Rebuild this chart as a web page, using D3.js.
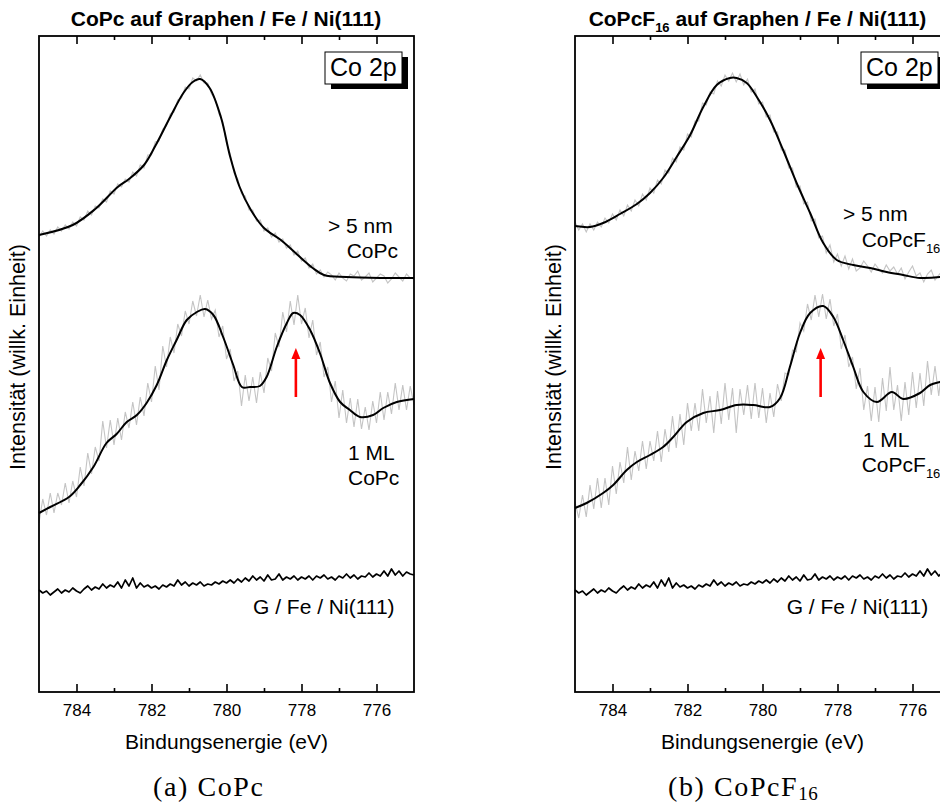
<!DOCTYPE html>
<html><head><meta charset="utf-8">
<script src="https://cdn.jsdelivr.net/npm/d3@7"></script>
<style>
body{margin:0;background:#fff;}
svg{display:block;}
text{font-family:"Liberation Sans",Arial,sans-serif;fill:#000;}
</style>
</head><body>
<svg id="c" width="940" height="803"></svg>
<script>
// ---------- data ----------
const majorTicks = [784, 782, 780, 778, 776];
const minorTicks = [783, 781, 779, 777];
// measurement grid 785.0 ... 775.0 eV in 0.1 eV steps
const energyGrid = d3.range(101).map(i => +(785 - i * 0.1).toFixed(1));

// CoPc > 5 nm
const copcThickSmooth = [[785.0,457],[784.1,467],[783.5,483],[782.9,505],[782.6,513],[782.2,527],[781.9,546],[781.5,575],[781.15,599],[780.9,610],[780.7,613],[780.45,604],[780.15,575],[779.9,535],[779.65,505],[779.35,482],[779.0,464],[778.55,452],[778.1,437],[777.7,424],[777.4,417],[776.8,415],[775.9,414],[775.0,414]];
const copcThickRaw = [455,461,456,462,458,465,461,467,463,470,466,475,472,481,477,486,484,493,490,501,498,508,505,513,510,520,516,527,524,537,537,550,551,563,566,578,580,592,594,605,603,614,611,617,609,609,598,593,578,570,549,538,519,513,498,496,482,482,471,472,461,464,455,459,450,453,444,447,437,441,431,434,424,428,418,422,415,420,417,412,419,414,411,418,416,421,412,415,419,410,414,418,416,409,413,419,415,411,418,414,413];
// CoPc 1 ML
const copcMLSmooth = [[785.0,179],[784.7,185],[784.2,195],[783.9,207],[783.55,225],[783.2,249],[782.93,258],[782.66,270],[782.39,277],[782.13,289],[781.86,307],[781.59,332],[781.33,352],[781.06,372],[780.79,380],[780.57,383],[780.35,377],[780.09,355],[779.82,327],[779.59,305],[779.37,305],[779.11,306],[778.93,315],[778.66,345],[778.39,369],[778.22,379],[778.04,377],[777.77,362],[777.51,339],[777.24,309],[776.97,290],[776.71,282],[776.44,275],[776.09,277],[775.82,284],[775.46,290],[775.0,293]];
const copcMLRaw = [169,193,177,199,179,199,187,209,189,211,195,225,206,239,218,245,231,271,244,272,247,274,252,280,264,290,267,295,276,309,290,326,302,346,325,355,339,368,356,381,368,391,376,397,375,392,373,382,355,366,333,343,311,321,286,317,291,315,289,320,299,334,321,359,345,380,360,391,367,397,368,384,354,372,337,350,315,325,290,311,274,302,269,294,265,293,263,285,262,291,269,300,272,300,278,309,282,307,282,306,287];
// CoPcF16 > 5 nm
const copcfThickSmooth = [[785.0,466],[784.6,465],[784.25,469],[783.8,478],[783.35,488],[783.0,499],[782.65,514],[782.29,535],[781.93,557],[781.58,585],[781.22,607],[780.87,614],[780.69,614],[780.42,609],[780.15,595],[779.8,572],[779.45,542],[779.09,509],[778.73,479],[778.38,449],[778.02,432],[777.58,427],[777.13,424],[776.69,420],[776.25,417],[775.8,414],[775.27,415],[775.0,417]];
const copcfThickRaw = [470,462,468,460,468,462,470,465,474,469,478,472,482,476,487,481,492,486,498,492,504,499,512,508,522,519,534,530,545,542,558,555,571,571,589,587,600,598,611,606,617,611,619,610,618,607,613,600,603,588,590,575,577,560,560,542,542,524,524,505,506,488,490,471,473,454,456,439,447,430,438,426,436,423,433,421,424,431,426,420,428,423,419,427,421,425,418,424,413,420,426,416,419,410,418,422,412,417,421,413,420];
// CoPcF16 1 ML
const copcfMLSmooth = [[785.0,184],[784.69,189],[784.25,199],[783.98,207],[783.62,222],[783.35,230],[783.0,237],[782.65,245],[782.38,255],[782.02,270],[781.58,279],[781.13,282],[780.69,287],[780.25,287],[779.8,285],[779.53,294],[779.27,325],[779.0,359],[778.73,379],[778.38,386],[778.11,375],[777.85,352],[777.58,325],[777.31,300],[776.95,290],[776.55,300],[776.25,293],[775.8,299],[775.53,307],[775.27,310],[775.0,312]];
const copcfMLRaw = [190,174,197,175,207,183,214,184,214,187,226,198,230,209,245,212,241,221,251,223,251,231,261,230,263,240,276,244,278,247,289,261,289,261,303,269,296,259,301,268,309,272,304,259,303,277,307,273,309,274,304,269,299,275,308,291,319,317,342,340,369,361,388,372,397,375,398,373,393,366,378,343,357,325,335,303,324,282,306,271,305,270,314,281,325,282,307,271,310,277,320,284,319,286,331,297,326,296,330,299,322];
// G / Fe / Ni(111) substrate (same spectrum in both panels)
const substrate = [102,99,101,97,100,103,99,102,100,104,101,99,103,106,102,105,103,108,104,107,105,110,104,112,106,114,104,109,105,107,104,106,103,107,105,108,106,112,107,110,106,109,107,110,106,108,107,110,108,111,109,112,109,113,110,114,111,116,112,115,111,117,112,113,118,112,115,113,116,112,115,113,116,112,116,114,117,113,115,112,116,114,118,114,117,113,116,115,119,115,118,116,121,116,123,117,121,116,120,118,117];

const arrowEnergy = [778.15, 778.45];
const arrowFrom = 295, arrowTo = 344;

// ---------- layout ----------
const svg = d3.select("#c");
const W = 375, H = 656, TOP = 36;
const x = d3.scaleLinear().domain([785, 775]).range([0, W]);
const y = d3.scaleLinear().domain([0, 656]).range([H, 0]);

const panels = [
  {x0: 39, titleX: 226,
   thickSmooth: copcThickSmooth, thickRaw: copcThickRaw, mlSmooth: copcMLSmooth, mlRaw: copcMLRaw,
   arrow: arrowEnergy[0], mol: "CoPc", sub: null,
   lbl: {t1:[289,197], t2:[307.7,222], m1:[309,424], m2:[309,449], g:[214,578]},
   caption: ["(a) CoPc", null], capX: 153},
  {x0: 575, titleX: 757.5,
   thickSmooth: copcfThickSmooth, thickRaw: copcfThickRaw, mlSmooth: copcfMLSmooth, mlRaw: copcfMLRaw,
   arrow: arrowEnergy[1], mol: "CoPcF", sub: "16",
   lbl: {t1:[268,185], t2:[286.7,210.7], m1:[287.7,410.7], m2:[286.7,435.7], g:[211.7,578]},
   caption: ["(b) CoPcF", "16"], capX: 668}
];

const smoothLine = d3.line().x(d => x(d[0])).y(d => y(d[1])).curve(d3.curveCatmullRom.alpha(0.5));
const rawLine = d3.line().x((d, i) => x(energyGrid[i])).y(d => y(d));

panels.forEach((p, pi) => {
  const g = svg.append("g").attr("transform", `translate(${p.x0},${TOP})`);

  // title
  const t = svg.append("text").attr("x", p.titleX).attr("y", 25.5).attr("text-anchor", "middle")
    .style("font-size", "21px").style("font-weight", "bold");
  if (pi === 0) t.text("CoPc auf Graphen / Fe / Ni(111)");
  else {
    t.append("tspan").text("CoPcF");
    t.append("tspan").text("16").style("font-size", "13px").attr("dy", 6);
    t.append("tspan").text(" auf Graphen / Fe / Ni(111)").attr("dy", -6);
  }

  // raw data (grey)
  g.append("path").datum(p.thickRaw).attr("d", rawLine).attr("fill", "none").attr("stroke", "#c4c4c4").attr("stroke-width", 1.1);
  g.append("path").datum(p.mlRaw).attr("d", rawLine).attr("fill", "none").attr("stroke", "#c4c4c4").attr("stroke-width", 1.1);
  // smoothed (black)
  g.append("path").datum(p.thickSmooth).attr("d", smoothLine).attr("fill", "none").attr("stroke", "#000").attr("stroke-width", 2);
  g.append("path").datum(p.mlSmooth).attr("d", smoothLine).attr("fill", "none").attr("stroke", "#000").attr("stroke-width", 2);
  // substrate
  g.append("path").datum(substrate).attr("d", rawLine).attr("fill", "none").attr("stroke", "#000").attr("stroke-width", 1.7).attr("stroke-linejoin", "round");

  // red arrow
  const ax = x(p.arrow), ay0 = y(arrowFrom), ay1 = y(arrowTo);
  g.append("line").attr("x1", ax).attr("x2", ax).attr("y1", ay0).attr("y2", ay1 + 8)
    .attr("stroke", "#ff0000").attr("stroke-width", 2.6);
  g.append("path").attr("d", `M${ax},${ay1}L${ax - 4.5},${ay1 + 11}L${ax + 4.5},${ay1 + 11}Z`).attr("fill", "#ff0000");

  // frame
  g.append("rect").attr("x", 0).attr("y", 0).attr("width", W).attr("height", H)
    .attr("fill", "none").attr("stroke", "#000").attr("stroke-width", 1.8);

  // axes ticks
  const bottomAx = d3.axisBottom(x).tickValues(majorTicks).tickSizeInner(-8).tickSizeOuter(0).tickPadding(12).tickFormat(d3.format("d"));
  const gb = g.append("g").attr("transform", `translate(0,${H})`).call(bottomAx);
  gb.selectAll("text").style("font-size", "17px").style("font-family", '"Liberation Sans",Arial,sans-serif');
  const gbm = g.append("g").attr("transform", `translate(0,${H})`).call(d3.axisBottom(x).tickValues(minorTicks).tickSizeInner(-4).tickSizeOuter(0).tickFormat(""));
  const gt = g.append("g").call(d3.axisTop(x).tickValues(majorTicks).tickSizeInner(-8).tickSizeOuter(0).tickFormat(""));
  const gtm = g.append("g").call(d3.axisTop(x).tickValues(minorTicks).tickSizeInner(-4).tickSizeOuter(0).tickFormat(""));
  [gb, gbm, gt, gtm].forEach(a => { a.select(".domain").remove(); a.selectAll("line").attr("stroke-width", 1.6); });

  // axis titles
  g.append("text").attr("x", W / 2).attr("y", 749 - TOP).attr("text-anchor", "middle").style("font-size", "21px").text("Bindungsenergie (eV)");
  svg.append("text").attr("transform", `translate(${p.x0 - 14},357) rotate(-90)`).attr("text-anchor", "middle")
    .style("font-size", "21.5px").text("Intensität (willk. Einheit)");

  // Co 2p box
  g.append("rect").attr("x", 292).attr("y", 21).attr("width", 77).attr("height", 32).attr("fill", "#000");
  g.append("rect").attr("x", 286).attr("y", 16).attr("width", 77).attr("height", 32).attr("fill", "#fff").attr("stroke", "#000").attr("stroke-width", 1);
  g.append("text").attr("x", 291).attr("y", 40).style("font-size", "25px").text("Co 2p");

  // curve labels
  const L = p.lbl;
  const molLabel = (pos) => {
    const tt = g.append("text").attr("x", pos[0]).attr("y", pos[1]).style("font-size", "21px");
    tt.append("tspan").text(p.mol);
    if (p.sub) tt.append("tspan").text(p.sub).style("font-size", "13px").attr("dy", 6);
  };
  g.append("text").attr("x", L.t1[0]).attr("y", L.t1[1]).style("font-size", "21px").text("> 5 nm");
  molLabel(L.t2);
  g.append("text").attr("x", L.m1[0]).attr("y", L.m1[1]).style("font-size", "21px").text("1 ML");
  molLabel(L.m2);
  g.append("text").attr("x", L.g[0]).attr("y", L.g[1]).style("font-size", "21px").text("G / Fe / Ni(111)");

  // caption
  const c = svg.append("text").attr("x", p.capX).attr("y", 796).style("font-family", '"Liberation Serif","Times New Roman",serif')
    .style("font-size", "28px").style("letter-spacing", "1.6px");
  c.append("tspan").text(p.caption[0]);
  if (p.caption[1]) c.append("tspan").text(p.caption[1]).style("font-size", "19px").attr("dy", 4).style("letter-spacing", "0.5px");
});
</script>
</body></html>
